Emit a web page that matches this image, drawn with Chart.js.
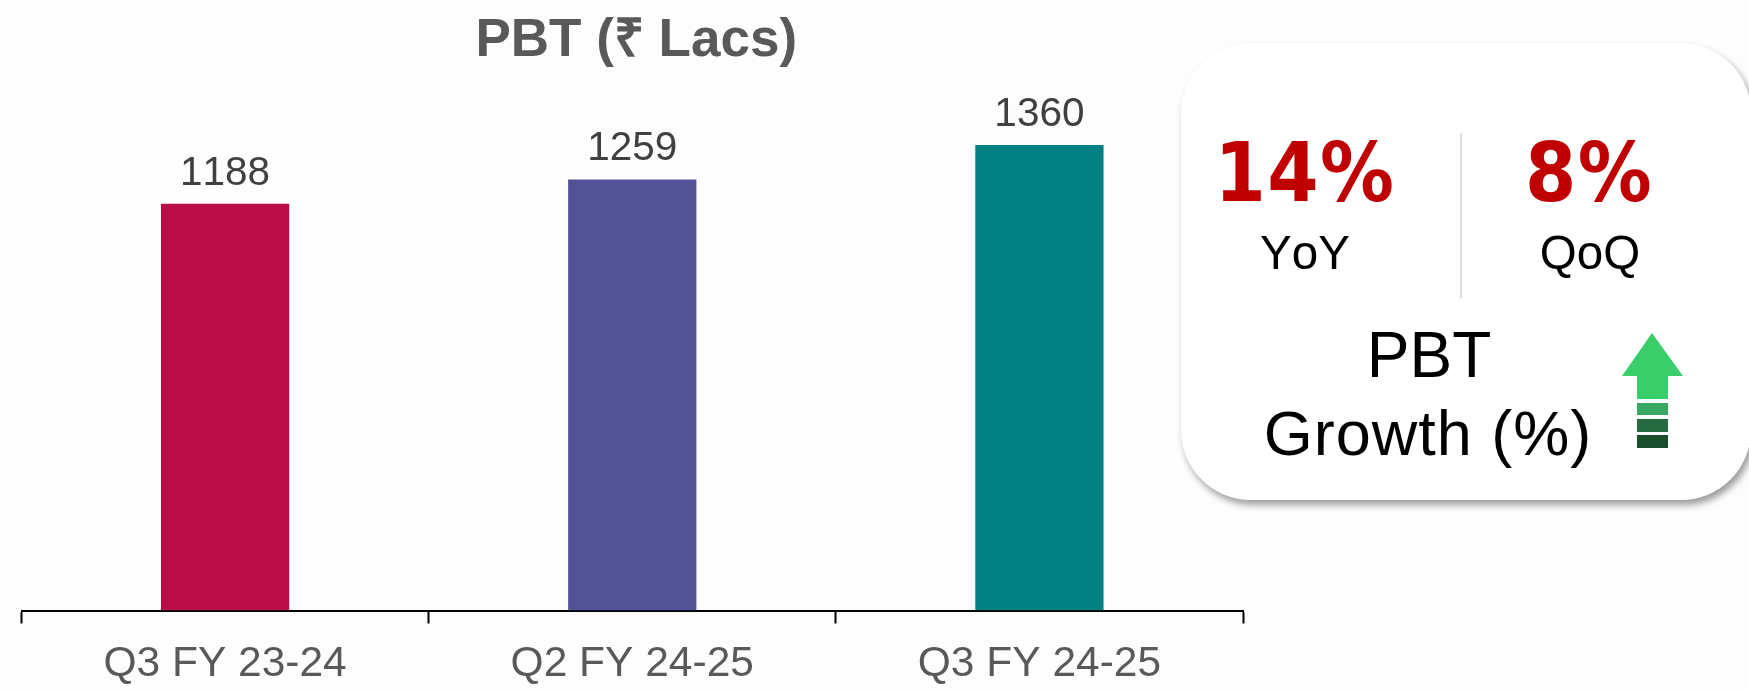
<!DOCTYPE html>
<html><head><meta charset="utf-8">
<script src="https://cdn.jsdelivr.net/npm/chart.js@4/dist/chart.umd.min.js"></script>
<style>
html,body{margin:0;padding:0;background:#fdfdfd;width:1749px;height:692px;overflow:hidden}
#wrap{position:relative;width:1749px;height:692px;font-family:"Liberation Sans",Arial,sans-serif;font-kerning:none}
canvas{position:absolute;left:0;top:0}
#card{position:absolute;left:1181px;top:43px;width:570px;height:457px;background:#fff;border-radius:70px;box-shadow:3px 5px 7px rgba(0,0,0,.38)}
.t{position:absolute;transform:translateX(-50%);white-space:nowrap;line-height:1;color:#000}
.big{font-family:"DejaVu Sans Condensed","DejaVu Sans",sans-serif;font-stretch:condensed;font-weight:700;font-size:82px;letter-spacing:1.5px;color:#c00000}
#div{position:absolute;left:1460px;top:133px;width:2px;height:165px;background:#dedede}
svg{position:absolute;left:1610px;top:325px}
</style></head><body>
<div id="wrap">
<canvas id="c" width="1749" height="692"></canvas>
<div id="card"></div>
<div class="t big" style="left:1305px;top:132px">14%</div>
<div class="t big" style="left:1589px;top:132px">8%</div>
<div class="t" style="left:1305px;top:229px;font-size:47.5px">YoY</div>
<div class="t" style="left:1590px;top:229px;font-size:47.5px">QoQ</div>
<div id="div"></div>
<div class="t" style="left:1429px;top:323px;font-size:64px">PBT</div>
<div class="t" style="left:1428px;top:402px;font-size:63px;letter-spacing:1px">Growth (%)</div>
<svg width="90" height="130" viewBox="1610 325 90 130">
<polygon points="1652,333 1683,376 1668,376 1668,399 1637,399 1637,376 1622,376" fill="#39ce6a"/>
<rect x="1637" y="403" width="31" height="12" fill="#37a862"/>
<rect x="1637" y="419" width="31" height="13" fill="#256b41"/>
<rect x="1637" y="435" width="31" height="13" fill="#1a4e2d"/>
</svg>
</div>
<script>
const categories = ["Q3 FY 23-24", "Q2 FY 24-25", "Q3 FY 24-25"];
const pbtValues = [1188, 1259, 1360];
const barColors = ["#b80d47", "#535296", "#008080"];
const chartTitle = "PBT (₹ Lacs)";

const valueLabels = {
  id: "valueLabels",
  beforeDraw(chart){ chart.ctx.fontKerning = "none"; },
  afterLayout(chart){ chart.titleBlock.left += 8; },
  afterDatasetsDraw(chart){
    const ctx = chart.ctx, meta = chart.getDatasetMeta(0);
    ctx.save();
    ctx.font = '40.5px "Liberation Sans"';
    ctx.fillStyle = "#404040";
    ctx.textAlign = "center";
    ctx.textBaseline = "alphabetic";
    meta.data.forEach((bar, i) => ctx.fillText(String(pbtValues[i]), bar.x, bar.y - 19));
    ctx.restore();
  }
};

new Chart(document.getElementById("c"), {
  type: "bar",
  data: { labels: categories, datasets: [{ data: pbtValues, backgroundColor: barColors, borderWidth: 0, barPercentage: 0.9, categoryPercentage: 0.35 }] },
  plugins: [valueLabels],
  options: {
    responsive: false, animation: false,
    layout: { padding: { left: 21.5, right: 506, top: 0, bottom: 0 } },
    plugins: {
      legend: { display: false }, tooltip: { enabled: false },
      title: { display: true, text: chartTitle, color: "#595959", font: { family: '"Liberation Sans"', size: 53, weight: "bold" }, padding: { top: 10, bottom: 10 } }
    },
    scales: {
      y: { display: false, min: 0, max: 1539, beginAtZero: true },
      x: {
        afterFit(scale){ scale.height -= 12.5; },
        grid: { display: true, drawOnChartArea: false, drawTicks: true, offset: true, tickLength: 13, tickColor: "#000", tickWidth: 2 },
        border: { display: true, color: "#000", width: 2 },
        ticks: { color: "#595959", font: { family: '"Liberation Sans"', size: 42.5 }, padding: 15, maxRotation: 0 }
      }
    }
  }
});
</script>
</body></html>
